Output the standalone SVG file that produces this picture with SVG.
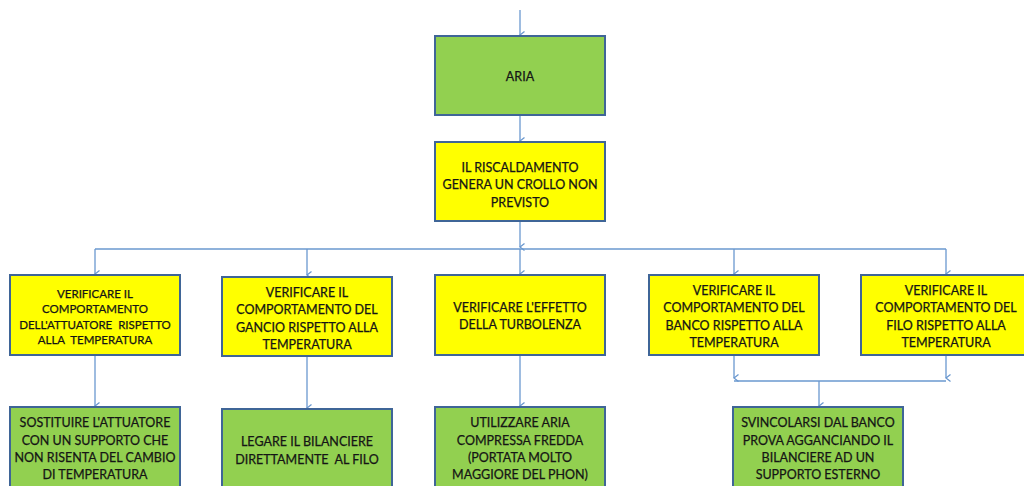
<svg xmlns="http://www.w3.org/2000/svg" width="1024" height="486" viewBox="0 0 1024 486">
  <defs>
    <marker id="arr" viewBox="0 0 10 10" refX="5" refY="9" markerWidth="10" markerHeight="10" markerUnits="userSpaceOnUse" orient="auto-start-reverse">
      <path d="M1.5,4.5 L5,9 L8.5,4.5" fill="none" stroke="#6A98CF" stroke-width="1.3"/>
    </marker>
    <style>
      .box { stroke: #3F6597; stroke-width: 2; }
      .green { fill: #92D050; }
      .yellow { fill: #FFFF00; }
      .conn { fill: none; stroke: #6A98CF; stroke-width: 1.3; }
      text { font-family: Lato, "Liberation Sans", sans-serif; font-size: 12.5px; fill: #151515; stroke: #151515; stroke-width: 0.25; text-anchor: middle; dominant-baseline: central; white-space: pre; }
      .sm { font-size: 11.5px; }
    </style>
  </defs>
  <rect width="1024" height="486" fill="#FFFFFF"/>

  <g id="connectors">
    <path class="conn" d="M520,10 V35" marker-end="url(#arr)"/>
    <path class="conn" d="M520,115 V141" marker-end="url(#arr)"/>
    <path class="conn" d="M520,221 V247" marker-end="url(#arr)"/>
    <path class="conn" d="M95,249 H946"/>
    <path class="conn" d="M95,249 V274" marker-end="url(#arr)"/>
    <path class="conn" d="M307,249 V275" marker-end="url(#arr)"/>
    <path class="conn" d="M520,249 V274" marker-end="url(#arr)"/>
    <path class="conn" d="M734,249 V274" marker-end="url(#arr)"/>
    <path class="conn" d="M946,249 V274" marker-end="url(#arr)"/>
    <path class="conn" d="M95,355 V406" marker-end="url(#arr)"/>
    <path class="conn" d="M307,356 V408" marker-end="url(#arr)"/>
    <path class="conn" d="M520,355 V406" marker-end="url(#arr)"/>
    <path class="conn" d="M734,355 V378" marker-end="url(#arr)"/>
    <path class="conn" d="M946,355 V378" marker-end="url(#arr)"/>
    <path class="conn" d="M734,381 H946"/>
    <path class="conn" d="M819,381 V406" marker-end="url(#arr)"/>
  </g>

  <g id="aria">
    <rect class="box green" x="435" y="36" width="170" height="79"/>
    <text x="520" y="76">ARIA</text>
  </g>

  <g id="riscaldamento">
    <rect class="box yellow" x="435" y="142" width="170" height="79"/>
    <text x="520" y="167">IL RISCALDAMENTO</text>
    <text x="520" y="184.5">GENERA UN CROLLO NON</text>
    <text x="520" y="202">PREVISTO</text>
  </g>

  <g id="verifica-attuatore">
    <rect class="box yellow" x="10" y="275" width="170" height="80"/>
    <text class="sm" x="95" y="293">VERIFICARE IL</text>
    <text class="sm" x="95" y="308.5">COMPORTAMENTO</text>
    <text class="sm" x="95" y="324" xml:space="preserve">DELL'ATTUATORE  RISPETTO</text>
    <text class="sm" x="95" y="339.5" xml:space="preserve">ALLA  TEMPERATURA</text>
  </g>

  <g id="verifica-gancio">
    <rect class="box yellow" x="222" y="277" width="170" height="79"/>
    <text x="307" y="292">VERIFICARE IL</text>
    <text x="307" y="309.5">COMPORTAMENTO DEL</text>
    <text x="307" y="327">GANCIO RISPETTO ALLA</text>
    <text x="307" y="344">TEMPERATURA</text>
  </g>

  <g id="verifica-turbolenza">
    <rect class="box yellow" x="435" y="275" width="170" height="80"/>
    <text x="520" y="307">VERIFICARE L'EFFETTO</text>
    <text x="520" y="324">DELLA TURBOLENZA</text>
  </g>

  <g id="verifica-banco">
    <rect class="box yellow" x="649" y="275" width="170" height="80"/>
    <text x="734" y="290">VERIFICARE IL</text>
    <text x="734" y="307.5">COMPORTAMENTO DEL</text>
    <text x="734" y="325">BANCO RISPETTO ALLA</text>
    <text x="734" y="342">TEMPERATURA</text>
  </g>

  <g id="verifica-filo">
    <rect class="box yellow" x="861" y="275" width="170" height="80"/>
    <text x="946" y="290">VERIFICARE IL</text>
    <text x="946" y="307.5">COMPORTAMENTO DEL</text>
    <text x="946" y="325">FILO RISPETTO ALLA</text>
    <text x="946" y="342">TEMPERATURA</text>
  </g>

  <g id="sostituire-attuatore">
    <rect class="box green" x="10" y="407" width="170" height="85"/>
    <text x="95" y="422.5">SOSTITUIRE L'ATTUATORE</text>
    <text x="95" y="440">CON UN SUPPORTO CHE</text>
    <text x="95" y="457.5">NON RISENTA DEL CAMBIO</text>
    <text x="95" y="474.5">DI TEMPERATURA</text>
  </g>

  <g id="legare-bilanciere">
    <rect class="box green" x="222" y="409" width="170" height="85"/>
    <text x="307" y="441.5">LEGARE IL BILANCIERE</text>
    <text x="307" y="459" xml:space="preserve">DIRETTAMENTE  AL FILO</text>
  </g>

  <g id="aria-compressa">
    <rect class="box green" x="435" y="407" width="170" height="85"/>
    <text x="520" y="422.5">UTILIZZARE ARIA</text>
    <text x="520" y="440">COMPRESSA FREDDA</text>
    <text x="520" y="457.5">(PORTATA MOLTO</text>
    <text x="520" y="474.5">MAGGIORE DEL PHON)</text>
  </g>

  <g id="svincolarsi">
    <rect class="box green" x="733" y="407" width="170" height="85"/>
    <text x="818" y="422">SVINCOLARSI DAL BANCO</text>
    <text x="818" y="440">PROVA AGGANCIANDO IL</text>
    <text x="818" y="457.5">BILANCIERE AD UN</text>
    <text x="818" y="474.5">SUPPORTO ESTERNO</text>
  </g>
</svg>
